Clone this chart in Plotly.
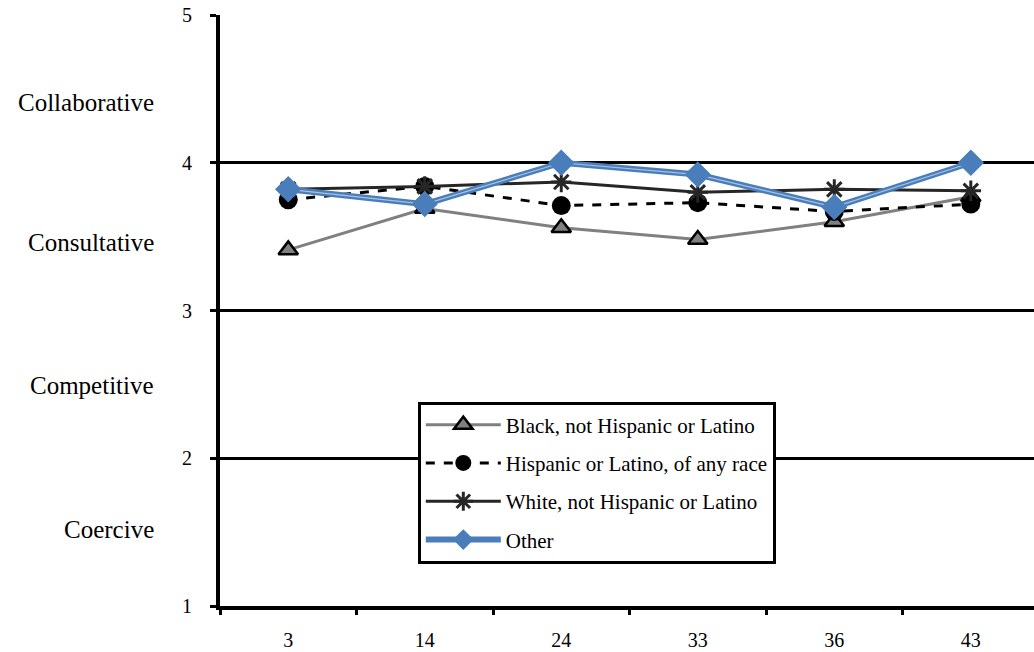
import plotly.graph_objects as go

categories = ["3", "14", "24", "33", "36", "43"]
black_vals = [3.41, 3.69, 3.56, 3.48, 3.60, 3.77]
hispanic_vals = [3.75, 3.84, 3.71, 3.73, 3.67, 3.72]
white_vals = [3.82, 3.84, 3.87, 3.80, 3.82, 3.81]
other_vals = [3.82, 3.72, 4.00, 3.92, 3.70, 4.00]
style_labels = ["Collaborative", "Consultative", "Competitive", "Coercive"]
# vertical anchor of each style label on the score scale
style_pos = [4.41, 3.46, 2.49, 1.52]

FONT = "Times New Roman, Liberation Serif, serif"
BLUE = "#4A7EBB"

fig = go.Figure()

fig.add_trace(go.Scatter(
    x=categories, y=black_vals, name="Black, not Hispanic or Latino",
    mode="lines+markers", legendgroup="a",
    line=dict(color="#808080", width=3),
    marker=dict(symbol="triangle-up", size=17, color="#808080",
                line=dict(color="black", width=2.5)),
))
fig.add_trace(go.Scatter(
    x=categories, y=hispanic_vals, name="Hispanic or Latino, of any race",
    mode="lines+markers", legendgroup="b",
    line=dict(color="black", width=3, dash="dash"),
    marker=dict(symbol="circle", size=19, color="black"),
))
fig.add_trace(go.Scatter(
    x=categories, y=white_vals, name="White, not Hispanic or Latino",
    mode="lines+markers", legendgroup="c",
    line=dict(color="#262626", width=3),
    marker=dict(symbol="asterisk-open", size=17, color="#262626",
                line=dict(color="#262626", width=3)),
))
fig.add_trace(go.Scatter(
    x=categories, y=other_vals, name="Other",
    mode="lines+markers", legendgroup="d",
    line=dict(color=BLUE, width=6),
    marker=dict(symbol="diamond", size=20, color=BLUE),
))
# light centre stripe of the double-line "Other" series, markers redrawn on top
fig.add_trace(go.Scatter(
    x=categories, y=other_vals, mode="lines", showlegend=False, hoverinfo="skip",
    line=dict(color="#A9C2E2", width=1.2),
))
fig.add_trace(go.Scatter(
    x=categories, y=other_vals, mode="markers", showlegend=False, hoverinfo="skip",
    marker=dict(symbol="diamond", size=20, color=BLUE),
))

for lbl, lv in zip(style_labels, style_pos):
    fig.add_annotation(
        x=-0.079, xref="paper", y=lv, yref="y", text=lbl, showarrow=False,
        xanchor="right", yanchor="middle", font=dict(family=FONT, size=25, color="black"),
    )

fig.update_layout(
    width=1034, height=652,
    margin=dict(l=220, r=0, t=15, b=46),
    paper_bgcolor="white", plot_bgcolor="white",
    font=dict(family=FONT, color="black"),
    legend=dict(
        x=0.243, y=0.346, xanchor="left", yanchor="top",
        bgcolor="white", bordercolor="black", borderwidth=3,
        font=dict(family=FONT, size=21, color="black"),
        tracegroupgap=8, itemwidth=75,
    ),
    xaxis=dict(
        type="category", range=[-0.5, 5.463], tickson="boundaries",
        showline=True, linecolor="black", linewidth=4,
        ticks="outside", ticklen=5, tickwidth=3, tickcolor="black",
        showgrid=False, zeroline=False, ticklabelstandoff=13,
        tickfont=dict(family=FONT, size=20, color="black"),
    ),
    yaxis=dict(
        range=[1, 5], tickvals=[1, 2, 3, 4, 5],
        showline=True, linecolor="black", linewidth=4,
        ticks="outside", ticklen=6, tickwidth=3, tickcolor="black",
        showgrid=True, gridcolor="black", gridwidth=3, zeroline=False,
        ticklabelstandoff=14,
        tickfont=dict(family=FONT, size=20, color="black"),
    ),
)

fig.write_html("out.html")
